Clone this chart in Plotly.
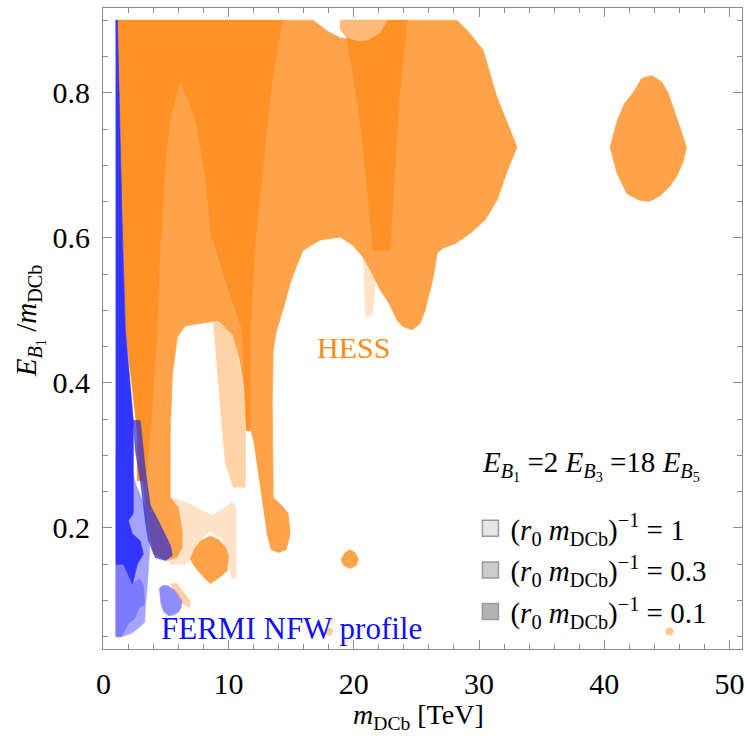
import plotly.graph_objects as go

# ---------------- data (region outlines in data coordinates) ----------------
# pale orange regions (r0 m = 1 only)
pale_low_x = [5.35, 6.65, 8.7, 10.3, 10.6, 10.6, 10.25, 9.9, 9.5, 8.5, 7.5, 6.9, 6.5, 5.3, 5.1]
pale_low_y = [0.242, 0.235, 0.217, 0.235, 0.228, 0.13, 0.13, 0.16, 0.185, 0.195, 0.18, 0.155, 0.15, 0.15, 0.16]
pale_fing_x = [20.75, 21.9, 21.5, 20.95]
pale_fing_y = [0.579, 0.579, 0.495, 0.49]
hole_fing_x = [8.78, 10.37, 11.33, 11.33, 10.37, 9.74, 9.5, 9.18]
hole_fing_y = [0.486, 0.473, 0.376, 0.256, 0.256, 0.289, 0.334, 0.403]
pale_dot_x = [18.0, 45.2]
pale_dot_y = [0.057, 0.057]

# main HESS region
hess_x = [1.0, 16.76, 17.9, 18.91, 20.35, 21.5, 22.67, 28.25, 29.29, 30.33, 31.44, 32.48, 33.04,
          32.3, 31.44, 30.5, 29.29, 28.1, 27.13, 26.66, 26.4, 26.1, 25.7, 25.3, 24.66, 23.9, 23.46,
          22.8, 22.11, 21.4, 20.75, 19.9, 18.91, 17.32, 15.96, 15.4, 14.92, 14.5, 14.13, 13.8, 13.57,
          13.49, 13.57, 14.3, 14.76, 14.92, 14.6, 14.0, 13.4, 13.09, 12.6, 12.0, 11.57,
          11.4, 10.9, 10.37, 9.34, 8.54, 7.74, 6.70, 5.91, 5.51, 5.35, 5.35, 5.99, 6.3, 6.3, 5.9,
          5.11, 4.3, 3.99, 3.5, 2.71, 1.5, 1.0]
hess_y = [0.9, 0.9, 0.885, 0.876, 0.872, 0.878, 0.9, 0.9, 0.882, 0.859, 0.794, 0.749, 0.725,
          0.694, 0.652, 0.625, 0.606, 0.592, 0.586, 0.579, 0.55, 0.528, 0.5, 0.482, 0.473, 0.478, 0.486,
          0.51, 0.528, 0.553, 0.573, 0.59, 0.601, 0.597, 0.583, 0.56, 0.537, 0.51, 0.49, 0.47, 0.445,
          0.376, 0.242, 0.23, 0.22, 0.192, 0.17, 0.166, 0.17, 0.19, 0.25, 0.32, 0.348,
          0.376, 0.43, 0.466, 0.483, 0.492, 0.493, 0.483, 0.463, 0.41, 0.334, 0.242, 0.228, 0.196, 0.173, 0.16,
          0.155, 0.162, 0.164, 0.21, 0.334, 0.6, 0.9]

# darker overlap strips
dark_x = [1.0, 14.29, 13.49, 12.77, 12.13, 11.73, 11.73, 11.41, 11.09, 9.74, 8.78, 4.55, 4.31,
          3.75, 3.35, 2.71, 2.71, 1.76, 1.52, 1.1]
dark_y = [0.9, 0.9, 0.818, 0.697, 0.597, 0.468, 0.334, 0.334, 0.473, 0.541, 0.597, 0.597, 0.473,
          0.334, 0.265, 0.265, 0.334, 0.473, 0.606, 0.79]
dark2_x = [19.15, 24.26, 23.6, 23.1, 22.9, 21.55, 21.0, 20.5, 19.8]
dark2_y = [0.9, 0.9, 0.79, 0.65, 0.583, 0.583, 0.68, 0.762, 0.84]
finger_x = [6.15, 7.34, 8.14, 8.54, 8.78, 9.18, 4.31, 4.55, 4.71, 4.95, 5.35]
finger_y = [0.814, 0.762, 0.680, 0.606, 0.527, 0.486, 0.472, 0.542, 0.606, 0.693, 0.762]
light_top_x = [18.91, 22.67, 22.1, 21.15, 20.35, 19.47, 18.91]
light_top_y = [0.9, 0.9, 0.883, 0.873, 0.872, 0.876, 0.887]

# isolated HESS islands
blob_r_x = [40.46, 41.0, 41.6, 42.3, 43.0, 43.79, 44.6, 45.1, 45.7, 46.2, 46.58, 46.3, 45.8, 45.2,
            44.45, 43.6, 42.8, 41.8, 41.0]
blob_r_y = [0.725, 0.76, 0.785, 0.80, 0.82, 0.824, 0.815, 0.80, 0.77, 0.745, 0.725, 0.705, 0.685, 0.67,
            0.658, 0.65, 0.652, 0.661, 0.69]
blob_m_x = [6.94, 7.3, 7.74, 8.54, 9.2, 9.8, 9.98, 9.9, 9.3, 8.54, 7.9, 7.3]
blob_m_y = [0.157, 0.172, 0.182, 0.189, 0.184, 0.172, 0.162, 0.141, 0.132, 0.123, 0.134, 0.146]
blob_s_x = [18.97, 19.3, 19.7, 20.1, 20.38, 20.2, 19.7, 19.2]
blob_s_y = [0.156, 0.166, 0.170, 0.166, 0.157, 0.148, 0.144, 0.148]
pale_small_x = [5.35, 5.9, 6.9, 6.9, 6.4, 5.8]
pale_small_y = [0.123, 0.123, 0.1, 0.09, 0.095, 0.11]

# FERMI regions
blue_light_x = [1.0, 1.0, 2.0, 2.6, 3.3, 3.51, 3.7, 3.6, 3.5, 3.35, 3.3, 2.8, 2.3, 1.8, 1.5]
blue_light_y = [0.05, 0.3, 0.3, 0.26, 0.23, 0.21, 0.17, 0.14, 0.118, 0.09, 0.07, 0.062, 0.055, 0.052, 0.05]
blue_mid_x = [1.0, 1.0, 1.6, 2.3, 2.9, 3.2, 3.3, 2.8, 2.5, 2.0, 1.7, 1.4]
blue_mid_y = [0.05, 0.15, 0.15, 0.123, 0.13, 0.12, 0.095, 0.088, 0.075, 0.068, 0.058, 0.05]
blue_dark_x = [1.0, 1.0, 1.12, 1.3, 1.52, 1.76, 2.39, 2.39, 2.0, 2.31, 2.95, 3.19, 2.71, 2.39, 2.31, 1.6, 1.0]
blue_dark_y = [0.15, 0.9, 0.9, 0.75, 0.606, 0.473, 0.348, 0.22, 0.21, 0.192, 0.182, 0.164, 0.15, 0.127, 0.123, 0.15, 0.15]
blue_over_x = [2.39, 2.95, 3.35, 3.75, 4.39, 5.35, 5.51, 4.95, 4.15, 3.59, 3.35, 2.95, 2.55]
blue_over_y = [0.348, 0.348, 0.28, 0.231, 0.21, 0.176, 0.162, 0.155, 0.159, 0.183, 0.21, 0.265, 0.307]
blue_blob_x = [4.47, 4.8, 5.2, 5.8, 6.3, 6.2, 6.0, 5.6, 5.2, 4.8, 4.6]
blue_blob_y = [0.117, 0.121, 0.12, 0.113, 0.10, 0.09, 0.084, 0.08, 0.079, 0.085, 0.095]

legend_names = ["(<i>r</i><sub>0</sub> <i>m</i><sub>DCb</sub>)<sup>\u22121</sup> = 1",
                "(<i>r</i><sub>0</sub> <i>m</i><sub>DCb</sub>)<sup>\u22121</sup> = 0.3",
                "(<i>r</i><sub>0</sub> <i>m</i><sub>DCb</sub>)<sup>\u22121</sup> = 0.1"]
legend_fills = ["#E6E6E6", "#CCCCCC", "#B3B3B3"]

x_ticks = [0, 10, 20, 30, 40, 50]
y_ticks = [0.2, 0.4, 0.6, 0.8]
y_tick_text = ["0.2", "0.4", "0.6", "0.8"]

FONT = "Liberation Serif"

# ---------------- figure ----------------
fig = go.Figure()


def poly(xs, ys, color):
    fig.add_trace(go.Scatter(x=xs + xs[:1], y=ys + ys[:1], mode="lines", fill="toself",
                             fillcolor=color, line=dict(color=color, width=0.6),
                             hoverinfo="skip", showlegend=False))


PALE = "#FFE3C9"
MED = "#FFA34B"
DARK = "#FF9226"

poly(pale_low_x, pale_low_y, PALE)
poly(pale_fing_x, pale_fing_y, PALE)
poly(hole_fing_x, hole_fing_y, "#FFD2A8")
poly(hess_x, hess_y, MED)
poly(dark_x, dark_y, DARK)
poly(dark2_x, dark2_y, DARK)
poly(finger_x, finger_y, MED)
poly(light_top_x, light_top_y, "#FFBA7A")
poly(blob_r_x, blob_r_y, MED)
poly(blob_m_x, blob_m_y, MED)
poly(blob_s_x, blob_s_y, MED)

poly(blue_light_x, blue_light_y, "#A4A4FF")
poly(blue_mid_x, blue_mid_y, "#7B7BFF")
poly(blue_dark_x, blue_dark_y, "#3434FF")
poly(blue_over_x, blue_over_y, "rgba(40,40,210,0.7)")
poly(blue_blob_x, blue_blob_y, "#8E8EFF")
poly(pale_small_x, pale_small_y, "rgba(255,170,100,0.55)")

fig.add_trace(go.Scatter(x=pale_dot_x, y=pale_dot_y, mode="markers",
                         marker=dict(symbol="circle", size=8, color="#FFC896"),
                         hoverinfo="skip", showlegend=False))

for i, (nm, fc) in enumerate(zip(legend_names, legend_fills)):
    fig.add_trace(go.Scatter(x=[None], y=[None], mode="markers", name=nm, legendgroup=str(i),
                             marker=dict(symbol="square", size=16, color=fc,
                                         line=dict(color="#9A9A9A", width=1.5))))

axis_common = dict(showline=True, linecolor="#8C8C8C", linewidth=1, mirror="allticks",
                   ticks="inside", ticklen=9, tickcolor="#8C8C8C", tickwidth=1,
                   showgrid=False, zeroline=False, automargin=False,
                   tickfont=dict(family=FONT, size=30, color="black"))

fig.update_layout(
    width=746, height=736,
    margin=dict(l=103, r=4, t=8, b=87, autoexpand=False),
    plot_bgcolor="white", paper_bgcolor="white",
    font=dict(family=FONT, color="black"),
    xaxis=dict(range=[-0.03, 51.0], tickvals=x_ticks, ticktext=[str(v) for v in x_ticks],
               minor=dict(dtick=2, tick0=0, ticks="inside", ticklen=5, tickcolor="#8C8C8C"),
               ticklabelstandoff=8, **axis_common),
    yaxis=dict(range=[0.033, 0.917], tickvals=y_ticks, ticktext=y_tick_text,
               minor=dict(dtick=0.05, tick0=0, ticks="inside", ticklen=5, tickcolor="#8C8C8C"),
               ticklabelstandoff=6, **axis_common),
    showlegend=True,
    legend=dict(x=0.575, y=0.228, xanchor="left", yanchor="top", bgcolor="rgba(0,0,0,0)",
                font=dict(family=FONT, size=29, color="black"), tracegroupgap=1,
                itemsizing="trace"),
    annotations=[
        dict(x=19.95, y=0.449, text="HESS", showarrow=False, xanchor="center", yanchor="middle",
             font=dict(family=FONT, size=30, color="#FF8A14")),
        dict(x=15.0, y=0.061, text="FERMI NFW profile", showarrow=False,
             xanchor="center", yanchor="middle",
             font=dict(family=FONT, size=31, color="#1010FF")),
        dict(x=38.95, y=0.286, xanchor="center", yanchor="middle",
             text="<i>E</i><sub><i>B</i><sub>1</sub></sub> =2 <i>E</i><sub><i>B</i><sub>3</sub></sub> =18 <i>E</i><sub><i>B</i><sub>5</sub></sub>",
             showarrow=False, font=dict(family=FONT, size=29, color="black")),
        dict(xref="paper", yref="paper", x=0.493, y=-0.106, xanchor="center", yanchor="middle",
             text="<i>m</i><sub>DCb</sub> [TeV]",
             showarrow=False, font=dict(family=FONT, size=28, color="black")),
        dict(xref="paper", yref="paper", x=-0.115, y=0.512, textangle=-90,
             xanchor="center", yanchor="middle",
             text="<i>E</i><sub><i>B</i><sub>1</sub></sub> /<i>m</i><sub>DCb</sub>",
             showarrow=False, font=dict(family=FONT, size=29, color="black")),
    ],
)

# remove the default page margin so the figure fills the window exactly
fig.write_html("out.html", config={"displayModeBar": False},
               post_script="document.body.style.margin='0';")
